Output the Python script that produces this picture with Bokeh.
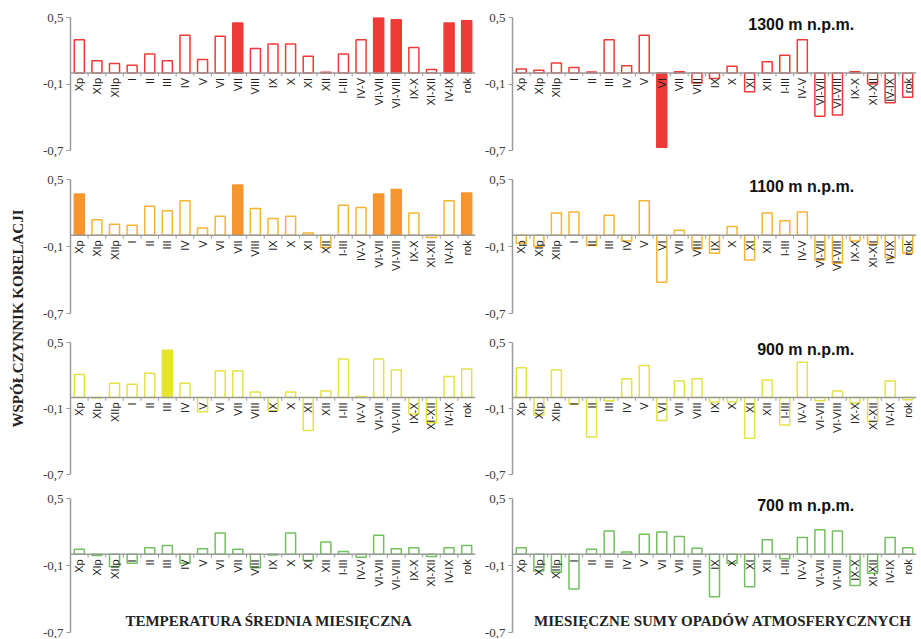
import numpy as np
from bokeh.plotting import figure
from bokeh.models import FactorRange, Range1d, FixedTicker, CustomJSTickFormatter, Span, Label, ColumnDataSource
from bokeh.layouts import row, column
from bokeh.transform import dodge
from bokeh.embed import file_html
from bokeh.resources import INLINE
from bokeh.core.properties import value

cats = ["Xp", "XIp", "XIIp", "I", "II", "III", "IV", "V", "VI", "VII", "VIII", "IX", "X",
        "XI", "XII", "I-III", "IV-V", "VI-VII", "VI-VIII", "IX-X", "XI-XII", "IV-IX", "rok"]

temp_1300 = [0.30, 0.11, 0.085, 0.07, 0.17, 0.11, 0.34, 0.12, 0.33, 0.45, 0.22, 0.26, 0.26,
             0.15, 0.006, 0.17, 0.30, 0.50, 0.48, 0.23, 0.03, 0.45, 0.47]
prec_1300 = [0.035, 0.025, 0.09, 0.05, 0.008, 0.30, 0.065, 0.34, -0.67, 0.01, -0.09, -0.05, 0.06,
             -0.17, 0.10, 0.16, 0.30, -0.39, -0.38, 0.01, -0.10, -0.27, -0.22]
temp_1100 = [0.37, 0.14, 0.10, 0.09, 0.26, 0.22, 0.31, 0.065, 0.17, 0.45, 0.24, 0.15, 0.17,
             0.02, -0.11, 0.27, 0.25, 0.37, 0.41, 0.20, -0.02, 0.31, 0.38]
prec_1100 = [-0.07, -0.10, 0.20, 0.21, -0.09, 0.18, -0.05, 0.31, -0.42, 0.045, -0.12, -0.16, 0.08,
             -0.22, 0.20, 0.13, 0.21, -0.22, -0.25, -0.05, -0.08, -0.20, -0.16]
temp_900 = [0.21, -0.005, 0.13, 0.12, 0.22, 0.43, 0.13, -0.13, 0.24, 0.24, 0.05, -0.12, 0.05,
            -0.30, 0.06, 0.35, 0.01, 0.35, 0.25, -0.15, -0.23, 0.19, 0.26]
prec_900 = [0.27, -0.16, 0.25, -0.06, -0.36, -0.03, 0.17, 0.29, -0.21, 0.15, 0.17, -0.04, -0.04,
            -0.37, 0.16, -0.25, 0.32, -0.03, 0.06, -0.05, -0.22, 0.15, -0.02]
temp_700 = [0.045, -0.01, -0.11, -0.08, 0.06, 0.08, -0.08, 0.05, 0.19, 0.045, -0.12, -0.005, 0.19,
            -0.055, 0.11, 0.025, -0.025, 0.17, 0.05, 0.06, -0.02, 0.06, 0.08]
prec_700 = [0.06, -0.15, -0.16, -0.31, 0.045, 0.21, 0.02, 0.18, 0.20, 0.16, 0.055, -0.38, -0.08,
            -0.29, 0.13, -0.04, 0.15, 0.22, 0.21, -0.28, -0.17, 0.15, 0.06]

sig_temp_1300 = ["VII", "VI-VII", "VI-VIII", "IV-IX", "rok"]
sig_prec_1300 = ["VI"]
sig_temp_1100 = ["Xp", "VII", "VI-VII", "VI-VIII", "rok"]
sig_prec_1100 = []
sig_temp_900 = ["III"]
sig_prec_900 = []
sig_temp_700 = []
sig_prec_700 = []

heights_labels = ["1300 m n.p.m.", "1100 m n.p.m.", "900 m n.p.m.", "700 m n.p.m."]
y_ticks = [-0.7, -0.1, 0.5]
y_title = "WSPÓŁCZYNNIK KORELACJI"
x_title_left = "TEMPERATURA ŚREDNIA MIESIĘCZNA"
x_title_right = "MIESIĘCZNE SUMY OPADÓW ATMOSFERYCZNYCH"

row_fill = ["#EE3B38", "#F7962E", "#E6E42E", "#72C15E"]
row_line = ["#EE3B38", "#F5B532", "#E3E345", "#72C15E"]

panels = [
    (temp_1300, sig_temp_1300, prec_1300, sig_prec_1300),
    (temp_1100, sig_temp_1100, prec_1100, sig_prec_1100),
    (temp_900, sig_temp_900, prec_900, sig_prec_900),
    (temp_700, sig_temp_700, prec_700, sig_prec_700),
]

# per-row figure geometry: (height, border_top, border_bottom)
row_geom = [(161, 17, 11), (161, 18, 9), (161, 20, 9), (155, 15, 6)]

SERIF = "Liberation Serif"
SANS = "Liberation Sans"


def make_panel(vals, sig, ri, left):
    h, bt, bb = row_geom[ri]
    last = ri == 3
    if left:
        w, bl, br = 447, 40, 2
    else:
        w, bl, br = 443, 35, 4
    p = figure(width=w, height=h, x_range=FactorRange(factors=cats, range_padding=0),
               y_range=Range1d(-0.7, 0.5), output_backend="svg", toolbar_location=None,
               x_axis_location=None, min_border_left=bl, min_border_right=br,
               min_border_top=bt, min_border_bottom=bb)
    p.outline_line_color = None
    p.xgrid.visible = False
    p.ygrid.visible = False
    ax = p.yaxis[0]
    ax.ticker = FixedTicker(ticks=y_ticks)
    ax.formatter = CustomJSTickFormatter(code="return tick.toFixed(1).replace('.', ',');")
    ax.axis_line_color = "#9A9A9A"
    ax.axis_line_width = 1.5
    ax.major_tick_line_color = "#9A9A9A"
    ax.major_tick_line_width = 1.2
    ax.major_tick_out = 4
    ax.major_tick_in = 0
    ax.minor_tick_line_color = None
    ax.major_label_text_font = SERIF
    ax.major_label_text_font_size = "13px"
    ax.major_label_text_color = "#3A3A3A"
    ax.major_label_standoff = 3

    fills = [row_fill[ri] if c in sig else "white" for c in cats]
    lines = [row_fill[ri] if c in sig else row_line[ri] for c in cats]
    src = ColumnDataSource(dict(cat=cats, val=vals, fill=fills, line=lines, zero=[0] * len(cats)))

    p.add_layout(Span(location=0, dimension="width", line_color="#9A9A9A", line_width=1.5))
    p.segment(x0=dodge("cat", -0.5, range=p.x_range), y0="zero",
              x1=dodge("cat", -0.5, range=p.x_range), y1=-0.03, source=src,
              line_color="#9A9A9A", line_width=1)
    p.vbar(x="cat", top="val", bottom="zero", width=0.57, source=src,
           fill_color="fill", line_color="line", line_width=1.5)
    p.text(x="cat", y="zero", text="cat", source=src, angle=np.pi / 2,
           text_align="right", text_baseline="middle", y_offset=5,
           text_font=value(SANS), text_font_size="11px", text_color="#222222")
    if not left:
        p.add_layout(Label(x=19.45, y=0.44, text=heights_labels[ri], text_align="right",
                           text_baseline="middle", text_font=SANS, text_font_style="bold",
                           text_font_size="16px", text_color="#111111"))
    if last:
        if left:
            p.add_layout(Label(x=11.3, y=-0.60, text=x_title_left, text_align="center",
                               text_baseline="middle", text_font=SERIF, text_font_style="bold",
                               text_font_size="15px", text_color="#222222"))
        else:
            p.add_layout(Label(x=12.0, y=-0.60, text=x_title_right, text_align="center",
                               text_baseline="middle", text_font=SERIF, text_font_style="bold",
                               text_font_size="15px", text_color="#222222"))
    return p


ylab = figure(width=30, height=638, x_range=Range1d(0, 30), y_range=Range1d(0, 638),
              output_backend="svg", toolbar_location=None, x_axis_location=None,
              y_axis_location=None, min_border=0)
ylab.outline_line_color = None
ylab.xgrid.visible = False
ylab.ygrid.visible = False
ylab.add_layout(Label(x=17, y=320, text=y_title, angle=np.pi / 2, text_align="center",
                      text_baseline="middle", text_font=SERIF, text_font_style="bold",
                      text_font_size="15px", text_color="#222222"))

rows = []
for ri, (tv, ts, pv, ps) in enumerate(panels):
    rows.append(row(make_panel(tv, ts, ri, True), make_panel(pv, ps, ri, False)))

layout = row(ylab, column(*rows))

open("out.html", "w").write(file_html(layout, INLINE))
